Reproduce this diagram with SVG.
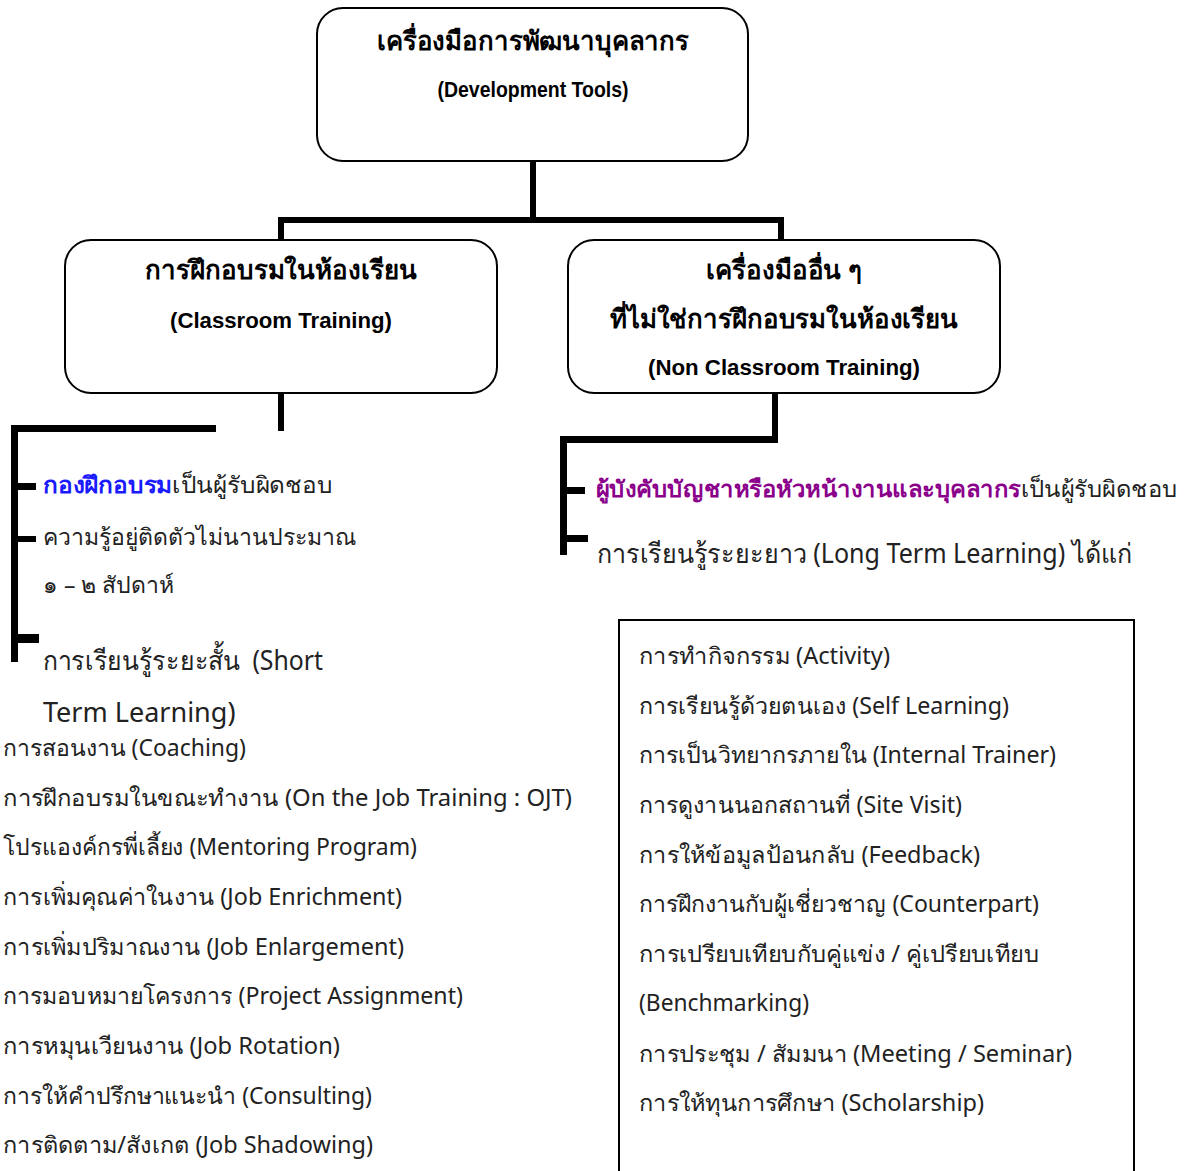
<svg xmlns="http://www.w3.org/2000/svg" width="1190" height="1171" viewBox="0 0 1190 1171">
<style>
.box{fill:#fff;stroke:#000;stroke-width:2}
.ln{fill:#000}
.hd{font-family:"Noto Sans","DejaVu Sans",sans-serif;font-weight:bold;font-size:26px;fill:#000;text-anchor:middle}
.sub{font-family:"Liberation Sans",Arial,sans-serif;font-weight:bold;font-size:22px;fill:#000;text-anchor:middle}
.t{font-family:"Noto Sans","DejaVu Sans",sans-serif;font-size:23px;fill:#222}
.tl{font-family:"Noto Sans","DejaVu Sans",sans-serif;font-size:27px;fill:#222}
.b{font-weight:bold}
</style>
<rect width="1190" height="1171" fill="#fff"/>
<g id="connectors">
<rect class="ln" x="530" y="161" width="6" height="60"/>
<rect class="ln" x="278" y="217" width="506" height="6"/>
<rect class="ln" x="278" y="217" width="6" height="24"/>
<rect class="ln" x="778" y="217" width="6" height="24"/>
<rect class="ln" x="278" y="393" width="6" height="38"/>
<rect class="ln" x="11" y="425" width="205" height="7"/>
<rect class="ln" x="11" y="425" width="7" height="237"/>
<rect class="ln" x="11" y="483" width="25" height="7"/>
<rect class="ln" x="11" y="536" width="25" height="6"/>
<rect class="ln" x="11" y="634" width="28" height="9"/>
<rect class="ln" x="772" y="393" width="6" height="50"/>
<rect class="ln" x="560" y="436" width="218" height="7"/>
<rect class="ln" x="560" y="436" width="7" height="119"/>
<rect class="ln" x="560" y="487" width="25" height="7"/>
<rect class="ln" x="560" y="535" width="28" height="7"/>
</g>
<g id="root">
<rect class="box" x="317" y="8" width="431" height="153" rx="26"/>
<text class="hd" x="533" y="50" textLength="312" lengthAdjust="spacingAndGlyphs">เครื่องมือการพัฒนาบุคลากร</text>
<text class="sub" x="533" y="97" font-size="19" textLength="191" lengthAdjust="spacingAndGlyphs">(Development Tools)</text>
</g>
<g id="classroom">
<rect class="box" x="65" y="240" width="432" height="153" rx="26"/>
<text class="hd" x="281" y="279" textLength="272" lengthAdjust="spacingAndGlyphs">การฝึกอบรมในห้องเรียน</text>
<text class="sub" x="281" y="328" textLength="222" lengthAdjust="spacingAndGlyphs">(Classroom Training)</text>
</g>
<g id="nonclassroom">
<rect class="box" x="568" y="240" width="432" height="153" rx="26"/>
<text class="hd" x="784" y="279" textLength="156" lengthAdjust="spacingAndGlyphs">เครื่องมืออื่น ๆ</text>
<text class="hd" x="784" y="328" textLength="348" lengthAdjust="spacingAndGlyphs">ที่ไม่ใช่การฝึกอบรมในห้องเรียน</text>
<text class="sub" x="784" y="375" textLength="272" lengthAdjust="spacingAndGlyphs">(Non Classroom Training)</text>
</g>
<g id="classroom-notes">
<text class="t" x="43" y="493" textLength="290" lengthAdjust="spacingAndGlyphs"><tspan class="b" fill="#1a1aff">กองฝึกอบรม</tspan>เป็นผู้รับผิดชอบ</text>
<text class="t" x="43" y="545">ความรู้อยู่ติดตัวไม่นานประมาณ</text>
<text class="t" x="43" y="593">๑ – ๒ สัปดาห์</text>
<text class="tl" x="43" y="670" textLength="280" lengthAdjust="spacingAndGlyphs">การเรียนรู้ระยะสั้น&#160; (Short</text>
<text class="tl" x="43" y="722">Term Learning)</text>
</g>
<g id="longterm-list">
<text class="t" x="3" y="756" textLength="243" lengthAdjust="spacingAndGlyphs">การสอนงาน (Coaching)</text>
<text class="t" x="3" y="806" textLength="569" lengthAdjust="spacingAndGlyphs">การฝึกอบรมในขณะทำงาน (On the Job Training : OJT)</text>
<text class="t" x="3" y="855" textLength="414" lengthAdjust="spacingAndGlyphs">โปรแองค์กรพี่เลี้ยง (Mentoring Program)</text>
<text class="t" x="3" y="905" textLength="399" lengthAdjust="spacingAndGlyphs">การเพิ่มคุณค่าในงาน (Job Enrichment)</text>
<text class="t" x="3" y="955" textLength="401" lengthAdjust="spacingAndGlyphs">การเพิ่มปริมาณงาน (Job Enlargement)</text>
<text class="t" x="3" y="1004" textLength="460" lengthAdjust="spacingAndGlyphs">การมอบหมายโครงการ (Project Assignment)</text>
<text class="t" x="3" y="1054" textLength="337" lengthAdjust="spacingAndGlyphs">การหมุนเวียนงาน (Job Rotation)</text>
<text class="t" x="3" y="1104" textLength="369" lengthAdjust="spacingAndGlyphs">การให้คำปรึกษาแนะนำ (Consulting)</text>
<text class="t" x="3" y="1153" textLength="370" lengthAdjust="spacingAndGlyphs">การติดตาม/สังเกต (Job Shadowing)</text>
</g>
<g id="nonclassroom-notes">
<text class="t" x="596" y="497" font-size="24" textLength="582" lengthAdjust="spacingAndGlyphs"><tspan class="b" fill="#8b008b">ผู้บังคับบัญชาหรือหัวหน้างานและบุคลากร</tspan>เป็นผู้รับผิดชอบ</text>
<text class="tl" x="597" y="563" textLength="535" lengthAdjust="spacingAndGlyphs">การเรียนรู้ระยะยาว (Long Term Learning) ได้แก่</text>
</g>
<g id="other-tools">
<rect fill="#fff" stroke="#000" stroke-width="2" x="619" y="620" width="515" height="560"/>
<text class="t" x="639" y="664" textLength="251" lengthAdjust="spacingAndGlyphs">การทำกิจกรรม (Activity)</text>
<text class="t" x="639" y="714" textLength="370" lengthAdjust="spacingAndGlyphs">การเรียนรู้ด้วยตนเอง (Self Learning)</text>
<text class="t" x="639" y="763" textLength="417" lengthAdjust="spacingAndGlyphs">การเป็นวิทยากรภายใน (Internal Trainer)</text>
<text class="t" x="639" y="813" textLength="323" lengthAdjust="spacingAndGlyphs">การดูงานนอกสถานที่ (Site Visit)</text>
<text class="t" x="639" y="863" textLength="341" lengthAdjust="spacingAndGlyphs">การให้ข้อมูลป้อนกลับ (Feedback)</text>
<text class="t" x="639" y="912" textLength="400" lengthAdjust="spacingAndGlyphs">การฝึกงานกับผู้เชี่ยวชาญ (Counterpart)</text>
<text class="t" x="639" y="962" textLength="400" lengthAdjust="spacingAndGlyphs">การเปรียบเทียบกับคู่แข่ง / คู่เปรียบเทียบ</text>
<text class="t" x="639" y="1011" textLength="170" lengthAdjust="spacingAndGlyphs">(Benchmarking)</text>
<text class="t" x="639" y="1062" textLength="433" lengthAdjust="spacingAndGlyphs">การประชุม / สัมมนา (Meeting / Seminar)</text>
<text class="t" x="639" y="1111" textLength="345" lengthAdjust="spacingAndGlyphs">การให้ทุนการศึกษา (Scholarship)</text>
</g>
</svg>
